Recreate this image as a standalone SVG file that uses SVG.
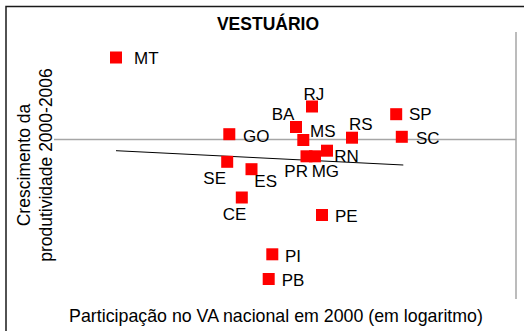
<svg xmlns="http://www.w3.org/2000/svg" width="524" height="331" viewBox="0 0 524 331">
<style>
text{font-family:"Liberation Sans",Arial,sans-serif;fill:#000}
.lbl{font-size:17px}
.pt{fill:#ff0000}
.ax{stroke:#a6a6a6;stroke-width:1.5;fill:none}
</style>
<defs><rect id="sq" x="-6" y="-6" width="12" height="12" class="pt"/></defs>
<rect width="524" height="331" fill="#fff"/>
<rect x="6" y="6.5" width="530" height="340" fill="none" stroke="#1a1a1a" stroke-width="1.5"/>
<text x="268" y="30" font-size="17.5" font-weight="bold" text-anchor="middle">VESTUÁRIO</text>
<g id="axes">
<line class="ax" x1="54" y1="139.5" x2="516" y2="139.5"/>
<line class="ax" x1="516" y1="32" x2="516" y2="299"/>
</g>
<g id="connectors">
<line x1="116" y1="150.7" x2="403.3" y2="165" stroke="#000" stroke-width="1"/>
</g>
<g id="MT"><use href="#sq" x="116" y="57.5"/><text class="lbl" x="134" y="64">MT</text></g>
<g id="RJ"><use href="#sq" x="312" y="106.5"/><text class="lbl" x="303.6" y="100">RJ</text></g>
<g id="SP"><use href="#sq" x="396.2" y="114.2"/><text class="lbl" x="409" y="120">SP</text></g>
<g id="BA"><use href="#sq" x="296" y="127"/><text class="lbl" x="271.7" y="120">BA</text></g>
<g id="MS"><use href="#sq" x="303.3" y="140"/><text class="lbl" x="310" y="137">MS</text></g>
<g id="GO"><use href="#sq" x="229.3" y="134.2"/><text class="lbl" x="243" y="142">GO</text></g>
<g id="RS"><use href="#sq" x="352" y="137.7"/><text class="lbl" x="349" y="130">RS</text></g>
<g id="SC"><use href="#sq" x="401.8" y="136.8"/><text class="lbl" x="416" y="144">SC</text></g>
<g id="RN"><use href="#sq" x="327" y="150.7"/><text class="lbl" x="334.3" y="162.3">RN</text></g>
<g id="PR"><use href="#sq" x="306.5" y="156.3"/><text class="lbl" x="284.3" y="177.3">PR</text></g>
<g id="MG"><use href="#sq" x="315" y="156.3"/><text class="lbl" x="311.7" y="177.3">MG</text></g>
<g id="SE"><use href="#sq" x="227.2" y="161.8"/><text class="lbl" x="203.3" y="184">SE</text></g>
<g id="ES"><use href="#sq" x="251.5" y="169.2"/><text class="lbl" x="254.3" y="186.7">ES</text></g>
<g id="CE"><use href="#sq" x="241.8" y="197.5"/><text class="lbl" x="222.7" y="219.5">CE</text></g>
<g id="PE"><use href="#sq" x="322" y="215"/><text class="lbl" x="335" y="221.5">PE</text></g>
<g id="PI"><use href="#sq" x="272.3" y="254.3"/><text class="lbl" x="285" y="262">PI</text></g>
<g id="PB"><use href="#sq" x="268.7" y="279"/><text class="lbl" x="281.7" y="286">PB</text></g>
<text x="276" y="322" font-size="17.8" text-anchor="middle">Participação no VA nacional em 2000 (em logaritmo)</text>
<g font-size="17.5" text-anchor="middle">
<text transform="translate(30,165) rotate(-90)">Crescimento da</text>
<text transform="translate(51.5,165) rotate(-90)">produtividade 2000-2006</text>
</g>
</svg>
